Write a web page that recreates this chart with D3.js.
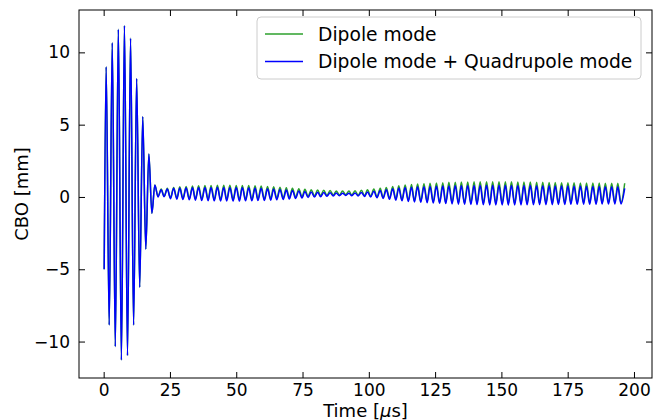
<!DOCTYPE html>
<html>
<head>
<meta charset="utf-8">
<script src="https://cdn.jsdelivr.net/npm/d3@7"></script>
<style>
  body { margin: 0; background: #fff; }
  text { font-family: "DejaVu Sans", sans-serif; fill: #000; }
</style>
</head>
<body>
<svg width="660" height="420"></svg>
<script>
// --- data (extrema of the CBO signal) ---
var seriesNames = ["Dipole mode", "Dipole mode + Quadrupole mode"];
var xTicks = [0, 25, 50, 75, 100, 125, 150, 175, 200];
var yTicks = [-10, -5, 0, 5, 10];

// injection burst, both modes on top of each other
var burstT = [0.2, 0.94, 2.09, 3.24, 4.39, 5.54, 6.69, 7.84, 8.99, 10.14, 11.29, 12.44, 13.59, 14.74, 15.89, 17.04, 18.19];
var burstV = [-5.0, 9.0, -8.85, 10.67, -10.35, 11.6, -11.27, 11.85, -10.97, 10.97, -8.85, 8.2, -6.25, 5.55, -3.6, 2.97, -1.13];

// after the burst: peak / trough times (us)
var tailT = [
  19.3, 20.5, 21.7, 22.8, 24.0, 25.2, 26.4, 27.6, 28.7, 29.9,
  31.1, 32.3, 33.5, 34.6, 35.8, 37.0, 38.2, 39.4, 40.5, 41.7,
  42.9, 44.1, 45.3, 46.4, 47.6, 48.8, 50.0, 51.2, 52.3, 53.5,
  54.7, 55.9, 57.1, 58.2, 59.4, 60.6, 61.8, 63.0, 64.1, 65.3,
  66.5, 67.7, 68.9, 70.0, 71.2, 72.4, 73.6, 74.8, 75.9, 77.1,
  78.3, 79.5, 80.7, 81.8, 83.0, 84.2, 85.4, 86.6, 87.7, 88.9,
  90.1, 91.3, 92.5, 93.6, 94.8, 96.0, 97.2, 98.4, 99.5, 100.7,
  101.9, 103.1, 104.3, 105.4, 106.6, 107.8, 109.0, 110.2, 111.3, 112.5,
  113.7, 114.9, 116.1, 117.2, 118.4, 119.6, 120.8, 122.0, 123.1, 124.3,
  125.5, 126.7, 127.9, 129.0, 130.2, 131.4, 132.6, 133.8, 134.9, 136.1,
  137.3, 138.5, 139.7, 140.8, 142.0, 143.2, 144.4, 145.6, 146.7, 147.9,
  149.1, 150.3, 151.5, 152.6, 153.8, 155.0, 156.2, 157.4, 158.5, 159.7,
  160.9, 162.1, 163.3, 164.4, 165.6, 166.8, 168.0, 169.2, 170.3, 171.5,
  172.7, 173.9, 175.1, 176.2, 177.4, 178.6, 179.8, 181.0, 182.1, 183.3,
  184.5, 185.7, 186.9, 188.0, 189.2, 190.4, 191.6, 192.8, 193.9, 195.1,
  196.5
];

// Dipole mode (green)
var dipoleTail = [
  0.83, 0.05, 0.55, 0.05, 0.6, -0.05, 0.66, -0.08, 0.7, -0.1,
  0.73, -0.12, 0.76, -0.14, 0.78, -0.16, 0.79, -0.17, 0.8, -0.18,
  0.81, -0.19, 0.81, -0.19, 0.81, -0.19, 0.8, -0.19, 0.8, -0.18,
  0.79, -0.18, 0.77, -0.16, 0.75, -0.15, 0.72, -0.13, 0.7, -0.11,
  0.67, -0.08, 0.64, -0.05, 0.6, -0.02, 0.57, 0.01, 0.53, 0.04,
  0.5, 0.07, 0.48, 0.09, 0.46, 0.11, 0.44, 0.13, 0.42, 0.14,
  0.41, 0.15, 0.41, 0.14, 0.43, 0.12, 0.46, 0.09, 0.5, 0.05,
  0.55, 0.0, 0.6, -0.05, 0.66, -0.1, 0.72, -0.15, 0.78, -0.2,
  0.83, -0.24, 0.86, -0.27, 0.89, -0.3, 0.92, -0.33, 0.95, -0.35,
  0.97, -0.37, 0.99, -0.39, 1.01, -0.4, 1.02, -0.41, 1.03, -0.42,
  1.04, -0.43, 1.05, -0.44, 1.05, -0.44, 1.06, -0.45, 1.06, -0.45,
  1.06, -0.45, 1.05, -0.45, 1.05, -0.45, 1.04, -0.45, 1.04, -0.44,
  1.03, -0.44, 1.02, -0.44, 1.01, -0.43, 1.0, -0.43, 1.0, -0.43,
  0.99, -0.42, 0.98, -0.42, 0.98, -0.42, 0.97, -0.41, 0.97, -0.41,
  0.96, -0.41, 0.96, -0.41, 0.95, -0.4, 0.95, -0.4, 0.95, -0.4,
  0.95
];

// Dipole mode + Quadrupole mode (blue)
var quadTail = [
  0.83, 0.0, 0.5, 0.02, 0.55, -0.12, 0.6, -0.15, 0.62, -0.18,
  0.63, -0.2, 0.65, -0.22, 0.65, -0.25, 0.66, -0.26, 0.66, -0.27,
  0.67, -0.28, 0.66, -0.28, 0.66, -0.28, 0.65, -0.28, 0.65, -0.27,
  0.64, -0.27, 0.62, -0.25, 0.6, -0.24, 0.57, -0.22, 0.55, -0.2,
  0.52, -0.17, 0.48, -0.14, 0.45, -0.1, 0.42, -0.07, 0.38, -0.04,
  0.35, -0.01, 0.33, 0.02, 0.31, 0.05, 0.29, 0.07, 0.27, 0.09,
  0.26, 0.1, 0.26, 0.09, 0.28, 0.07, 0.31, 0.04, 0.35, 0.0,
  0.4, -0.05, 0.45, -0.1, 0.5, -0.16, 0.56, -0.22, 0.62, -0.27,
  0.66, -0.31, 0.68, -0.34, 0.7, -0.37, 0.71, -0.4, 0.73, -0.42,
  0.74, -0.44, 0.75, -0.46, 0.76, -0.48, 0.77, -0.5, 0.78, -0.51,
  0.79, -0.52, 0.8, -0.53, 0.8, -0.54, 0.81, -0.55, 0.81, -0.55,
  0.81, -0.55, 0.81, -0.55, 0.8, -0.55, 0.8, -0.55, 0.79, -0.54,
  0.79, -0.54, 0.78, -0.54, 0.78, -0.53, 0.77, -0.53, 0.76, -0.52,
  0.76, -0.52, 0.75, -0.51, 0.74, -0.51, 0.74, -0.5, 0.73, -0.5,
  0.72, -0.5, 0.72, -0.49, 0.71, -0.49, 0.71, -0.49, 0.7, -0.48,
  0.6
];

var colors = ["#2ca02c", "#0000ff"];

// --- chart ---
var svg = d3.select("svg"),
    plotL = 79, plotR = 652, plotT = 10, plotB = 378;

var x = d3.scaleLinear().domain([-9.3, 206.8]).range([plotL, plotR]);
var y = d3.scaleLinear().domain([-12.52, 12.93]).range([plotB, plotT]);

function build(tail) {
  var pts = burstT.map(function(t, i) { return {t: t, v: burstV[i]}; });
  return pts.concat(tailT.map(function(t, i) { return {t: t, v: tail[i]}; }));
}
var series = [build(dipoleTail), build(quadTail)];

var line = d3.line()
    .x(function(d) { return x(d.t); })
    .y(function(d) { return y(d.v); })
    .curve(d3.curveMonotoneX);

svg.append("g")
  .selectAll("path")
  .data(series)
  .enter().append("path")
    .attr("d", line)
    .attr("fill", "none")
    .attr("stroke", function(d, i) { return colors[i]; })
    .attr("stroke-width", 1.5)
    .attr("stroke-linejoin", "round");

// axes, ticks pointing inward on all four sides
svg.append("g")
    .attr("transform", "translate(0," + plotB + ")")
    .call(d3.axisBottom(x).tickValues(xTicks).tickSize(-6).tickPadding(6).tickSizeOuter(0));
svg.append("g")
    .attr("transform", "translate(0," + plotT + ")")
    .call(d3.axisTop(x).tickValues(xTicks).tickSize(-6).tickFormat("").tickSizeOuter(0));
svg.append("g")
    .attr("transform", "translate(" + plotL + ",0)")
    .call(d3.axisLeft(y).tickValues(yTicks).tickSize(-6).tickPadding(9).tickSizeOuter(0));
svg.append("g")
    .attr("transform", "translate(" + plotR + ",0)")
    .call(d3.axisRight(y).tickValues(yTicks).tickSize(-6).tickFormat("").tickSizeOuter(0));

svg.selectAll(".domain").remove();
svg.selectAll(".tick line").attr("stroke", "#000").attr("stroke-width", 1);
svg.selectAll(".tick text")
    .attr("font-family", "DejaVu Sans")
    .attr("font-size", 17)
    .style("font-size", "17px");

svg.append("rect")
    .attr("x", plotL).attr("y", plotT)
    .attr("width", plotR - plotL).attr("height", plotB - plotT)
    .attr("fill", "none").attr("stroke", "#000").attr("stroke-width", 1);

// axis labels
var xl = svg.append("text")
    .attr("x", (plotL + plotR) / 2).attr("y", 416.5)
    .attr("text-anchor", "middle")
    .style("font-size", "18px");
xl.append("tspan").text("Time [");
xl.append("tspan").style("font-style", "italic").text("\u03bc");
xl.append("tspan").text("s]");

svg.append("text")
    .attr("transform", "translate(28," + (plotT + plotB) / 2 + ") rotate(-90)")
    .attr("text-anchor", "middle")
    .style("font-size", "18px")
    .text("CBO [mm]");

// legend
var legend = svg.append("g");
legend.append("rect")
    .attr("x", 257).attr("y", 17).attr("width", 384).attr("height", 62)
    .attr("rx", 4)
    .attr("fill", "#fff").attr("fill-opacity", 0.8)
    .attr("stroke", "#ccc").attr("stroke-width", 1);

var rows = legend.selectAll("g.row")
    .data(seriesNames)
  .enter().append("g")
    .attr("class", "row")
    .attr("transform", function(d, i) { return "translate(0," + (34 + i * 27.5) + ")"; });

rows.append("line")
    .attr("x1", 265).attr("x2", 303)
    .attr("stroke", function(d, i) { return colors[i]; })
    .attr("stroke-width", 1.3);

rows.append("text")
    .attr("x", 318).attr("y", 6.5)
    .style("font-size", "18.7px")
    .text(function(d) { return d; });
</script>
</body>
</html>
